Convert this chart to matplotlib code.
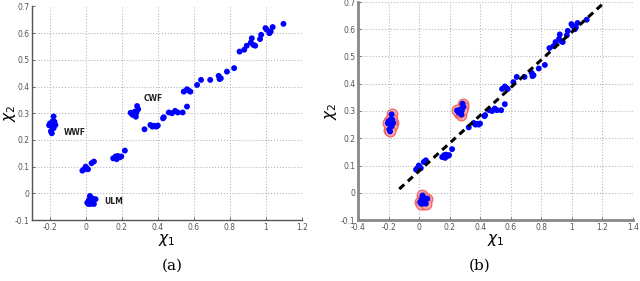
import numpy as np
import matplotlib
matplotlib.use('Agg')
import matplotlib.pyplot as plt

# main trend points (chi_1, chi_2)
line_x = [-0.020, -0.011, -0.002, 0.011, 0.004, 0.031, 0.044, 0.151, 0.164, 0.177,
          0.170, 0.188, 0.196, 0.216, 0.325, 0.358, 0.369, 0.380, 0.391, 0.399,
          0.428, 0.432, 0.460, 0.478, 0.495, 0.510, 0.537, 0.561, 0.543, 0.561,
          0.570, 0.580, 0.617, 0.639, 0.690, 0.737, 0.742, 0.749, 0.783, 0.823,
          0.853, 0.879, 0.893, 0.916, 0.921, 0.930, 0.940, 0.967, 0.973, 0.997,
          1.004, 1.019, 1.026, 1.037, 1.097]
line_y = [0.085, 0.090, 0.100, 0.090, 0.094, 0.113, 0.119, 0.131, 0.138, 0.140,
          0.128, 0.135, 0.138, 0.160, 0.240, 0.256, 0.250, 0.253, 0.250, 0.254,
          0.281, 0.285, 0.303, 0.300, 0.309, 0.303, 0.303, 0.325, 0.381, 0.390,
          0.385, 0.381, 0.406, 0.425, 0.425, 0.440, 0.428, 0.431, 0.456, 0.469,
          0.531, 0.538, 0.553, 0.565, 0.581, 0.556, 0.553, 0.578, 0.594, 0.619,
          0.613, 0.600, 0.606, 0.623, 0.635]

# outlier clusters
wwf_x = [-0.180, -0.200, -0.190, -0.170, -0.190, -0.180, -0.195, -0.190, -0.175, -0.205, -0.185]
wwf_y = [0.288, 0.262, 0.258, 0.256, 0.250, 0.244, 0.232, 0.225, 0.268, 0.255, 0.270]
cwf_x = [0.284, 0.290, 0.271, 0.253, 0.259, 0.277, 0.266, 0.280, 0.248]
cwf_y = [0.327, 0.315, 0.306, 0.300, 0.294, 0.287, 0.297, 0.302, 0.302]
ulm_x = [0.022, 0.016, 0.007, 0.026, 0.040, 0.053, 0.035, 0.013, 0.044]
ulm_y = [-0.010, -0.025, -0.035, -0.040, -0.031, -0.022, -0.019, -0.040, -0.040]

# fitted line in (b)
fit_x = [-0.13, 1.21]
fit_a, fit_b = 0.08, 0.51

all_x = line_x + wwf_x + cwf_x + ulm_x
all_y = line_y + wwf_y + cwf_y + ulm_y
out_x = wwf_x + cwf_x + ulm_x
out_y = wwf_y + cwf_y + ulm_y

fig = plt.figure(figsize=(6.4, 2.81), dpi=100)
ax1 = fig.add_axes([32/640, 1-220/281, (302-32)/640, (220-6.5)/281])
ax2 = fig.add_axes([358/640, 1-220/281, (633-358)/640, (220-2)/281])

tick_font = dict(fontsize=5.5, color='#333333')


def style(ax, xlim, xticks, spine_w, spine_c, ylab_x):
    ax.set_xlim(xlim)
    ax.set_ylim(-0.1, 0.7)
    ax.set_xticks(xticks)
    ax.set_yticks(np.arange(-0.1, 0.71, 0.1))
    ax.set_xticklabels(['%g' % round(t, 1) for t in xticks], **tick_font)
    ax.set_yticklabels(['%g' % round(t, 1) for t in np.arange(-0.1, 0.71, 0.1)], **tick_font)
    ax.grid(True, linestyle=':', color='#b8b8b8', linewidth=0.8)
    ax.set_axisbelow(True)
    for s in ['top', 'right']:
        ax.spines[s].set_visible(False)
    for s in ['left', 'bottom']:
        ax.spines[s].set_linewidth(spine_w)
        ax.spines[s].set_color(spine_c)
    ax.tick_params(direction='in', length=2, width=0.6, pad=2, colors='#555555')
    ax.set_xlabel(r'$\chi_1$', fontsize=11, labelpad=0)
    ax.set_ylabel(r'$\chi_2$', fontsize=11, va='center')
    ax.yaxis.set_label_coords(ylab_x, 0.5)


# (a)
ax1.scatter(all_x, all_y, s=18, color='#0000ff', edgecolors='none', zorder=3)
style(ax1, (-0.3, 1.2), [-0.2, 0, 0.2, 0.4, 0.6, 0.8, 1, 1.2], 1.0, '#555555', (10-32)/270)
lab = dict(fontsize=5.5, fontweight='bold', color='#222222')
ax1.text(-0.125, 0.229, 'WWF', va='center', **lab)
ax1.text(0.318, 0.355, 'CWF', va='center', **lab)
ax1.text(0.103, -0.029, 'ULM', va='center', **lab)

# (b)
ax2.scatter(out_x, out_y, s=60, facecolor='#f6a8a8', edgecolors='#f06060',
            linewidths=0.8, zorder=2)
ax2.scatter(all_x, all_y, s=18, color='#0000ff', edgecolors='none', zorder=3)
fx = np.array(fit_x)
ax2.plot(fx, fit_a + fit_b * fx, '--', color='black', linewidth=2.2, dashes=(2.2, 1.6), zorder=4)
style(ax2, (-0.4, 1.4), [-0.4, -0.2, 0, 0.2, 0.4, 0.6, 0.8, 1, 1.2, 1.4], 2.0, '#888888', (331-358)/275)

fig.text(172/640, 1-266/281, '(a)', fontsize=11, family='DejaVu Serif', ha='center', va='center')
fig.text(480/640, 1-266/281, '(b)', fontsize=11, family='DejaVu Serif', ha='center', va='center')

fig.savefig('out.png', dpi=100)
